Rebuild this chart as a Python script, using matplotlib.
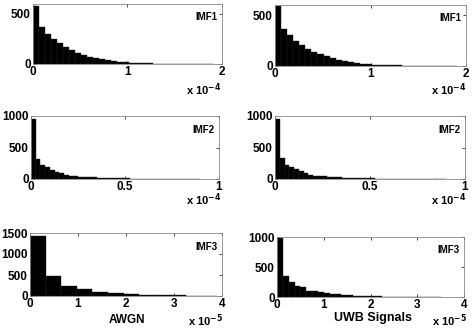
import numpy as np
import matplotlib
matplotlib.use("Agg")
import matplotlib.pyplot as plt

plt.rcParams['font.family'] = ['Liberation Sans', 'DejaVu Sans']
plt.rcParams['font.weight'] = 'bold'
plt.rcParams['mathtext.default'] = 'bf'

# histogram counts (one value per bin)
imf1_awgn = [585, 368, 300, 255, 208, 170, 145, 115, 93, 72, 62, 48, 38, 30, 23,
             17, 13, 10, 8, 6, 5, 4, 3, 3, 2, 2, 1, 1, 1, 1]
imf1_uwb = [592, 365, 305, 250, 205, 172, 140, 118, 95, 75, 62, 50, 40, 30, 24,
            18, 14, 11, 8, 7, 5, 4, 3, 3, 2, 2, 2, 1, 1, 1]
imf2_awgn = [946, 313, 216, 189, 146, 119, 92, 65, 49, 43, 38, 32, 28, 24, 20,
             17, 14, 12, 10, 9, 8, 7, 6, 5, 5, 4, 4, 3, 3, 2, 2, 2, 1, 1, 1, 1]
imf2_uwb = [950, 330, 225, 195, 160, 125, 95, 70, 55, 45, 40, 34, 29, 25, 21,
            18, 15, 12, 10, 9, 8, 7, 6, 5, 5, 4, 4, 3, 3, 2, 2, 2, 1, 1, 1, 1]
imf3_awgn = [1440, 470, 250, 175, 100, 65, 45, 25, 15, 12, 10, 8]
imf3_uwb = [980, 350, 255, 185, 160, 100, 95, 85, 65, 55, 45, 35, 28, 22, 18,
            14, 11, 9, 7, 6, 5, 4, 3, 3, 2, 2, 1, 1]

# bin widths (data units) and axis settings
bin_w = {'imf1': 2e-4 / 31.5, 'imf2': 1e-4 / 40, 'imf3a': 0.325e-5, 'imf3u': 0.125e-5}
xlims = [2e-4, 1e-4, 4e-5]
x_scales = [1e-4, 1e-4, 1e-5]
x_ticks = [[0, 1, 2], [0, 0.5, 1], [0, 1, 2, 3, 4]]
y_lims = [[600, 600], [1000, 1000], [1500, 1000]]
y_ticks = [[[0, 500], [0, 500]], [[0, 500, 1000], [0, 500, 1000]],
           [[0, 500, 1000, 1500], [0, 500, 1000]]]
labels = ['IMF1', 'IMF2', 'IMF3']
exps = ['-4', '-4', '-5']

panels = [[(imf1_awgn, bin_w['imf1']), (imf1_uwb, bin_w['imf1'])],
          [(imf2_awgn, bin_w['imf2']), (imf2_uwb, bin_w['imf2'])],
          [(imf3_awgn, bin_w['imf3a']), (imf3_uwb, bin_w['imf3u'])]]

W, H = 472, 334
# axes boxes in pixels: (left, top, right, bottom)
boxes = [[(33, 4, 222, 64), (275, 5, 466, 66)],
         [(31, 116, 219, 179), (275, 116, 465, 179)],
         [(30, 233, 222, 296), (277, 237, 464, 297)]]
# right end / vertical centre of the "x 10^n" notes, pixels
exp_pos = [[(221, 90), (466, 90)],
           [(221, 200), (466, 200)],
           [(223, 321), (467, 321)]]

fig = plt.figure(figsize=(W / 100, H / 100), dpi=100)

for r in range(3):
    for c in range(2):
        l, t, rr, b = boxes[r][c]
        ax = fig.add_axes([l / W, 1 - b / H, (rr - l) / W, (b - t) / H])
        counts, w = panels[r][c]
        scale = x_scales[r]
        edges = np.arange(len(counts)) * w / scale
        ax.bar(edges, counts, width=w / scale, align='edge',
               color='black', edgecolor='#222222', linewidth=0.3)
        ax.set_xlim(0, xlims[r] / scale)
        ax.set_ylim(0, y_lims[r][c])
        ax.set_xticks(x_ticks[r])
        ax.set_xticklabels([('%g' % v) for v in x_ticks[r]])
        ax.set_yticks(y_ticks[r][c])
        ax.tick_params(direction='in', length=2, width=0.5, top=True, right=True,
                       labelsize=8.5, pad=1.5, colors='black')
        for s in ax.spines.values():
            s.set_linewidth(0.6)
            s.set_color('#888888')
        for lab in ax.get_xticklabels() + ax.get_yticklabels():
            lab.set_fontweight('bold')
        ax.text(0.975, 0.78, labels[r], transform=ax.transAxes, ha='right',
                va='center', fontsize=7, fontweight='bold')
        ex, ey = exp_pos[r][c]
        fig.text(ex / W, 1 - ey / H, 'x 10$^{' + exps[r] + '}$',
                 ha='right', va='center', fontsize=8, fontweight='bold')

fig.text(127 / W, 1 - 320 / H, 'AWGN', ha='center', va='center',
         fontsize=8.5, fontweight='bold')
fig.text(373 / W, 1 - 318 / H, 'UWB Signals', ha='center', va='center',
         fontsize=9, fontweight='bold')

fig.savefig('out.png', dpi=100)
